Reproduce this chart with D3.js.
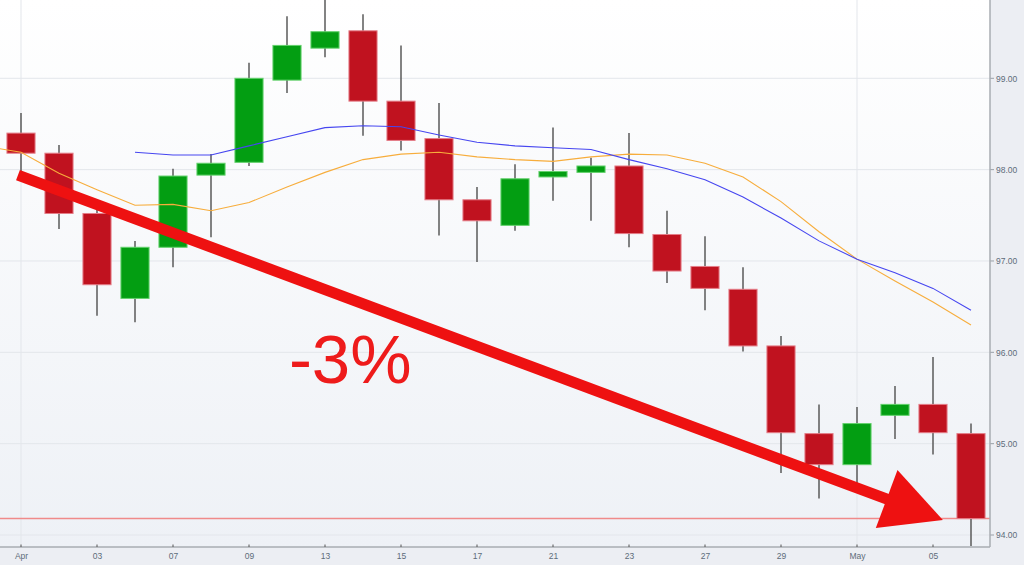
<!DOCTYPE html>
<html>
<head>
<meta charset="utf-8">
<script src="https://cdn.jsdelivr.net/npm/d3@7"></script>
<style>
html,body{margin:0;padding:0;background:#eceef3;}
svg{display:block;}
</style>
</head>
<body>
<svg id="chart" width="1024" height="565"></svg>
<script>
// ---------- DATA ----------
const tickLabels = ["Apr","03","07","09","13","15","17","21","23","27","29","May","05"]; // every 2nd candle
const opens  = [98.40,98.18,97.52,96.59,97.15,97.94,98.08,98.98,99.33,99.52,98.75,98.34,97.67,97.39,97.92,97.97,98.04,97.29,96.94,96.69,96.07,95.11,94.77,95.31,95.43,95.11];
const closes = [98.18,97.52,96.74,97.15,97.93,98.07,99.00,99.36,99.51,98.75,98.32,97.67,97.44,97.90,97.98,98.04,97.30,96.89,96.70,96.07,95.12,94.77,95.22,95.43,95.12,94.18];
const highs  = [98.62,98.27,97.56,97.22,98.01,98.17,99.17,99.68,99.95,99.70,99.36,98.73,97.81,98.06,98.46,98.13,98.40,97.55,97.27,96.93,96.18,95.43,95.40,95.63,95.95,95.22];
const lows   = [97.98,97.35,96.40,96.33,96.93,97.26,98.04,98.84,99.23,98.37,98.21,97.28,96.99,97.33,97.66,97.44,97.15,96.76,96.46,96.01,94.68,94.40,94.55,95.05,94.88,93.88];
// moving averages (blue starts at candle 3, orange continues from a candle before the window)
const maBlueStart = 3;
const maBlue = [98.19,98.16,98.16,98.26,98.36,98.46,98.48,98.47,98.38,98.30,98.26,98.24,98.22,98.11,98.01,97.89,97.70,97.47,97.22,97.02,96.87,96.70,96.46];
const maOrangeStart = -1;
const maOrange = [98.26,98.19,97.96,97.78,97.61,97.62,97.55,97.64,97.81,97.97,98.11,98.17,98.19,98.14,98.11,98.09,98.14,98.17,98.16,98.07,97.92,97.65,97.32,97.02,96.78,96.55,96.30];
const yTicks = [94,95,96,97,98,99];
const monthStarts = [0,22];
// annotation (in data units: candle index, price)
const arrowFrom = {i:-0.08, v:97.94};
const arrowTo   = {i:24.26, v:94.164};
const noteText = "-3%";
const notePos = {i:7.05, v:95.66};

// ---------- LAYOUT ----------
const W = 1024, H = 565;
const plot = {left:2, right:990, top:0, bottom:547};
const n = opens.length;
const svg = d3.select("#chart");

const x = d3.scaleLinear().domain([-0.5, n-0.5]).range([plot.left, plot.right]);
const y = d3.scaleLinear().domain([94, 99]).range([535, 78.3]);
const step = x(1) - x(0);
const bodyW = step * 0.74;

const defs = svg.append("defs");
const grad = defs.append("linearGradient").attr("id","bg").attr("x1",0).attr("y1",0).attr("x2",0).attr("y2",1);
grad.append("stop").attr("offset","0%").attr("stop-color","#ffffff");
grad.append("stop").attr("offset","100%").attr("stop-color","#eef1f6");
defs.append("clipPath").attr("id","clip").append("rect")
  .attr("x",0).attr("y",0).attr("width",plot.right).attr("height",plot.bottom);

svg.append("rect").attr("width",W).attr("height",H).attr("fill","#eceef3");
svg.append("rect").attr("x",0).attr("y",0).attr("width",plot.right).attr("height",plot.bottom).attr("fill","url(#bg)");

const g = svg.append("g").attr("clip-path","url(#clip)");

// gridlines
g.selectAll(".hgrid").data(yTicks).join("line")
  .attr("x1",0).attr("x2",plot.right+3)
  .attr("y1",d=>y(d)).attr("y2",d=>y(d))
  .attr("stroke","#e3e6eb").attr("stroke-width",1);
svg.selectAll(".hgridext").data(yTicks).join("line")
  .attr("x1",plot.right).attr("x2",plot.right+4)
  .attr("y1",d=>y(d)).attr("y2",d=>y(d))
  .attr("stroke","#9aa0a8").attr("stroke-width",1);
g.selectAll(".vgrid").data(monthStarts).join("line")
  .attr("x1",d=>x(d)).attr("x2",d=>x(d))
  .attr("y1",0).attr("y2",plot.bottom)
  .attr("stroke","#e3e6eb").attr("stroke-width",1);

// last-close reference line
g.append("line")
  .attr("x1",0).attr("x2",plot.right)
  .attr("y1",y(closes[n-1])).attr("y2",y(closes[n-1]))
  .attr("stroke","#f08a8a").attr("stroke-width",1.5);

// candles
const idx = d3.range(n);
g.selectAll(".wick").data(idx).join("line")
  .attr("x1",i=>x(i)).attr("x2",i=>x(i))
  .attr("y1",i=>y(highs[i])).attr("y2",i=>y(lows[i]))
  .attr("stroke","#5a5a5a").attr("stroke-width",1.5);
g.selectAll(".body").data(idx).join("rect")
  .attr("x",i=>x(i)-bodyW/2).attr("width",bodyW)
  .attr("y",i=>y(Math.max(opens[i],closes[i])))
  .attr("height",i=>Math.max(1,Math.abs(y(opens[i])-y(closes[i]))))
  .attr("fill",i=>closes[i]>=opens[i] ? "#039e12" : "#c0121f")
  .attr("stroke",i=>closes[i]>=opens[i] ? "#63d16c" : "#e47d88")
  .attr("stroke-width",1);

// moving averages
const line = d3.line().x(d=>x(d.i)).y(d=>y(d.v));
g.append("path").datum(maOrange.map((v,k)=>({i:k+maOrangeStart,v})))
  .attr("d",line).attr("fill","none").attr("stroke","#f7ad3c").attr("stroke-width",1.1);
g.append("path").datum(maBlue.map((v,k)=>({i:k+maBlueStart,v})))
  .attr("d",line).attr("fill","none").attr("stroke","#4646f0").attr("stroke-width",1.1);

// axes
const xAxis = d3.axisBottom(x)
  .tickValues(tickLabels.map((_,k)=>k*2))
  .tickFormat((d,k)=>tickLabels[k])
  .tickSize(0).tickPadding(6);
const xg = svg.append("g").attr("transform",`translate(0,${plot.bottom})`).call(xAxis);
xg.select(".domain").attr("stroke","#a8acb2").attr("stroke-width",1.5).attr("d",`M0,0H${plot.right}`);
xg.selectAll("text").attr("fill","#5d6c7a").style("font","8.5px 'Liberation Sans', Arial, sans-serif");
svg.selectAll(".xt").data(tickLabels.map((_,k)=>k*2)).join("line")
  .attr("x1",d=>x(d)).attr("x2",d=>x(d))
  .attr("y1",plot.bottom-2.5).attr("y2",plot.bottom)
  .attr("stroke","#555").attr("stroke-width",1);

const yAxis = d3.axisRight(y).tickValues(yTicks).tickFormat(d3.format(".2f")).tickSize(0).tickPadding(6);
const yg = svg.append("g").attr("transform",`translate(${plot.right},0)`).call(yAxis);
yg.select(".domain").attr("stroke","#a8acb2").attr("stroke-width",1.5).attr("d",`M0,0V${plot.bottom}`);
yg.selectAll("text").attr("fill","#5d6c7a").style("font","8.5px 'Liberation Sans', Arial, sans-serif");

// annotation arrow
const ax0 = x(arrowFrom.i), ay0 = y(arrowFrom.v);
const ax1 = x(arrowTo.i),   ay1 = y(arrowTo.v);
const dx = ax1-ax0, dy = ay1-ay0, len = Math.hypot(dx,dy);
const ux = dx/len, uy = dy/len, px = -uy, py = ux;
const headLen = 60, headHalf = 31;
const bx = ax1 - ux*headLen, by = ay1 - uy*headLen;
svg.append("line")
  .attr("x1",ax0).attr("y1",ay0).attr("x2",bx+ux*4).attr("y2",by+uy*4)
  .attr("stroke","#ee1111").attr("stroke-width",11);
svg.append("polygon")
  .attr("points",[[ax1,ay1],[bx+px*headHalf,by+py*headHalf],[bx-px*headHalf,by-py*headHalf]].map(p=>p.join(",")).join(" "))
  .attr("fill","#ee1111");

svg.append("text")
  .attr("x",x(notePos.i)).attr("y",y(notePos.v))
  .attr("fill","#ee1b1b")
  .style("font","69px 'Liberation Sans', Arial, sans-serif")
  .text(noteText);
</script>
</body>
</html>
